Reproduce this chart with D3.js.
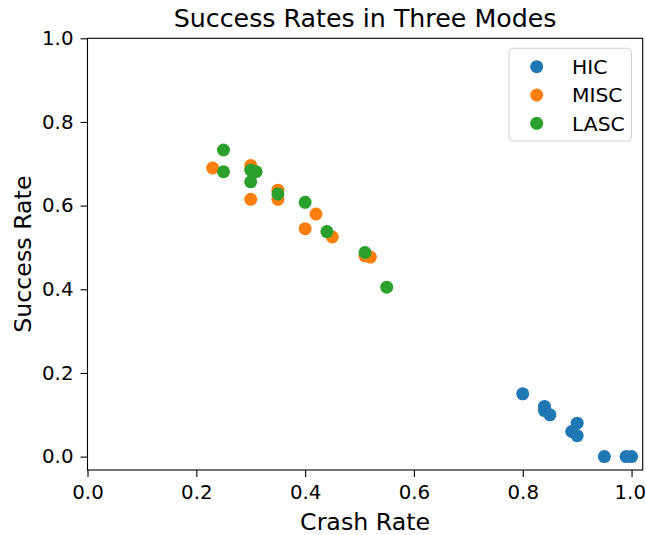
<!DOCTYPE html>
<html>
<head>
<meta charset="utf-8">
<script src="https://cdn.jsdelivr.net/npm/d3@7"></script>
<style>
  body { margin: 0; background: #fff; }
  svg { font-family: "DejaVu Sans", sans-serif; }
</style>
</head>
<body>
<svg id="chart" width="646" height="535"></svg>
<script>
// Crash rate vs success rate for three driving modes
const seriesNames = ["HIC", "MISC", "LASC"];
const seriesColors = ["#1f77b4", "#ff7f0e", "#2ca02c"];

const hicCrash   = [0.80, 0.84, 0.84, 0.85, 0.89, 0.90, 0.90, 0.95, 0.99, 1.00];
const hicSuccess = [0.15, 0.12, 0.11, 0.10, 0.06, 0.08, 0.05, 0.00, 0.00, 0.00];

const miscCrash   = [0.23, 0.30, 0.30, 0.35, 0.35, 0.40, 0.42, 0.45, 0.51, 0.52];
const miscSuccess = [0.69, 0.696, 0.615, 0.637, 0.615, 0.545, 0.58, 0.525, 0.48, 0.477];

const lascCrash   = [0.25, 0.25, 0.30, 0.30, 0.31, 0.35, 0.40, 0.44, 0.51, 0.55];
const lascSuccess = [0.733, 0.681, 0.685, 0.657, 0.681, 0.628, 0.608, 0.538, 0.488, 0.405];

const xTicks = [0.0, 0.2, 0.4, 0.6, 0.8, 1.0];
const yTicks = [0.0, 0.2, 0.4, 0.6, 0.8, 1.0];

const svg = d3.select("#chart");
const margin = { left: 87.5, right: 3.3, top: 38.3, bottom: 65 };
const W = 646, H = 535;
const plotW = W - margin.left - margin.right;
const plotH = H - margin.top - margin.bottom;

const x = d3.scaleLinear().domain([0, 1.0205]).range([margin.left, margin.left + plotW]);
const y = d3.scaleLinear().domain([-0.032, 1.0]).range([margin.top + plotH, margin.top]);

const series = [
  { name: seriesNames[0], color: seriesColors[0], xs: hicCrash,  ys: hicSuccess },
  { name: seriesNames[1], color: seriesColors[1], xs: miscCrash, ys: miscSuccess },
  { name: seriesNames[2], color: seriesColors[2], xs: lascCrash, ys: lascSuccess }
];

// points
series.forEach(s => {
  svg.append("g").selectAll("circle")
    .data(s.xs.map((v, i) => [v, s.ys[i]]))
    .join("circle")
    .attr("cx", d => x(d[0]))
    .attr("cy", d => y(d[1]))
    .attr("r", 6.5)
    .attr("fill", s.color);
});

// axes
const fmt = d3.format(".1f");
const xAxis = svg.append("g")
  .attr("transform", `translate(0,${margin.top + plotH})`)
  .call(d3.axisBottom(x).tickValues(xTicks).tickFormat(fmt).tickSize(7).tickPadding(8));
const yAxis = svg.append("g")
  .attr("transform", `translate(${margin.left},0)`)
  .call(d3.axisLeft(y).tickValues(yTicks).tickFormat(fmt).tickSize(7).tickPadding(7));
[xAxis, yAxis].forEach(a => {
  a.select(".domain").remove();
  a.selectAll(".tick line").attr("stroke", "#000").attr("stroke-width", 1.1);
  a.selectAll(".tick text").attr("fill", "#000").style("font-size", "19.8px")
    .style("font-family", "DejaVu Sans, sans-serif");
});
// keep the last x label inside the page edge
xAxis.selectAll(".tick text").filter(d => d === 1.0).attr("dx", -1.8);

// frame
svg.append("rect")
  .attr("x", margin.left).attr("y", margin.top)
  .attr("width", plotW).attr("height", plotH)
  .attr("fill", "none").attr("stroke", "#000").attr("stroke-width", 1.1);

// title and labels
svg.append("text")
  .attr("x", margin.left + plotW / 2).attr("y", 27)
  .attr("text-anchor", "middle").style("font-size", "25.3px")
  .text("Success Rates in Three Modes");
svg.append("text")
  .attr("x", margin.left + plotW / 2).attr("y", 529.5)
  .attr("text-anchor", "middle").style("font-size", "23.7px")
  .text("Crash Rate");
svg.append("text")
  .attr("transform", `translate(31,${margin.top + plotH / 2}) rotate(-90)`)
  .attr("text-anchor", "middle").style("font-size", "23.7px")
  .text("Success Rate");

// legend
const lg = svg.append("g");
lg.append("rect")
  .attr("x", 509).attr("y", 48.3).attr("width", 122.5).attr("height", 92.7)
  .attr("rx", 4).attr("fill", "#fff").attr("fill-opacity", 0.8)
  .attr("stroke", "#d0d0d0").attr("stroke-width", 1);
series.forEach((s, i) => {
  const cy = 66.7 + i * 28.3;
  lg.append("circle").attr("cx", 536.7).attr("cy", cy).attr("r", 6.5).attr("fill", s.color);
  lg.append("text").attr("x", 572).attr("y", cy + 7.4)
    .style("font-size", "20.3px").text(s.name);
});
</script>
</body>
</html>
